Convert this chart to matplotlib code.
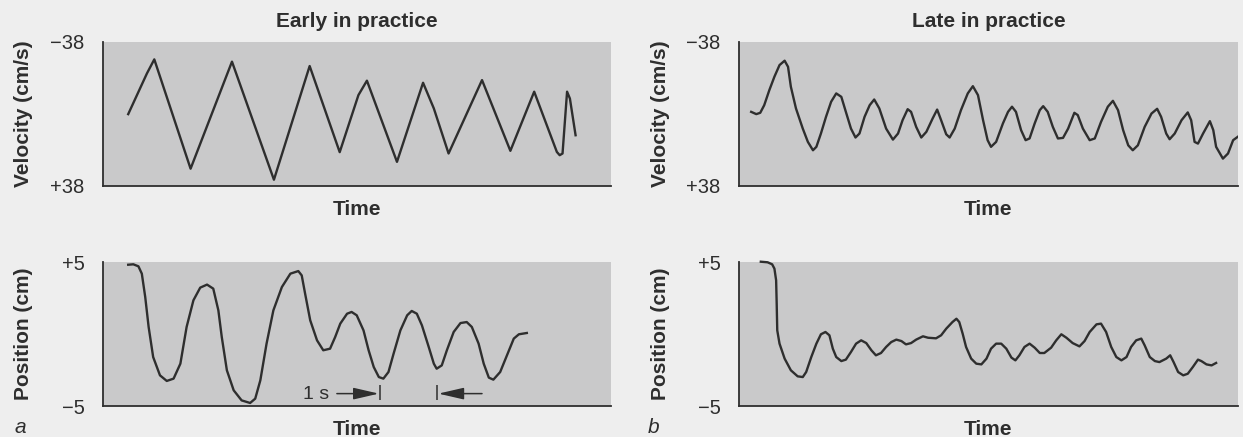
import matplotlib
matplotlib.use("Agg")
import matplotlib.pyplot as plt

plt.rcParams['font.family'] = ['Liberation Sans', 'DejaVu Sans']

# ---------------- data (time in s, values in axis units) ----------------
early_vel_t = [0.45, 0.78, 0.91, 1.55, 2.28, 3.02, 3.65, 4.18, 4.51, 4.66, 5.19,
               5.65, 5.84, 6.10, 6.69, 7.19, 7.61, 8.01, 8.06, 8.11, 8.19, 8.24, 8.34]
early_vel_v = [0.2, -21.2, -28.6, 28.9, -27.4, 34.7, -25.1, 20.2, -9.8, -17.4, 25.3,
               -16.3, -2.8, 20.9, -17.7, 19.5, -11.6, 20.1, 21.8, 20.9, -11.6, -8.0, 11.3]

early_pos_t = [0.45, 0.54, 0.63, 0.69, 0.75, 0.81, 0.89, 1.01, 1.13, 1.25, 1.37, 1.48,
               1.60, 1.72, 1.84, 1.95, 2.04, 2.10, 2.19, 2.31, 2.45, 2.60, 2.69, 2.78,
               2.89, 3.01, 3.16, 3.31, 3.45, 3.51, 3.57, 3.66, 3.78, 3.89, 4.01, 4.10,
               4.19, 4.31, 4.39, 4.48, 4.60, 4.69, 4.78, 4.87, 4.95, 5.04, 5.13, 5.25,
               5.37, 5.45, 5.54, 5.63, 5.75, 5.84, 5.89, 5.98, 6.07, 6.19, 6.31, 6.42,
               6.51, 6.63, 6.72, 6.81, 6.89, 7.01, 7.13, 7.25, 7.34, 7.48]
early_pos_p = [4.81, 4.84, 4.70, 4.19, 2.57, 0.49, -1.60, -2.87, -3.26, -3.10, -2.06, 0.49,
               2.34, 3.22, 3.43, 3.15, 1.64, -0.21, -2.52, -3.91, -4.61, -4.79, -4.49, -3.22,
               -0.67, 1.64, 3.26, 4.19, 4.37, 4.07, 2.80, 0.95, -0.44, -1.13, -1.02, -0.21,
               0.72, 1.41, 1.53, 1.30, 0.25, -1.13, -2.29, -2.99, -3.10, -2.64, -1.37, 0.25,
               1.30, 1.60, 1.41, 0.60, -0.90, -2.06, -2.41, -2.18, -1.13, 0.14, 0.76, 0.83,
               0.49, -0.67, -2.06, -3.03, -3.17, -2.64, -1.48, -0.32, -0.02, 0.07]

late_vel_t = [0.22, 0.31, 0.38, 0.45, 0.54, 0.63, 0.72, 0.81, 0.87, 0.92, 1.01, 1.13,
              1.22, 1.31, 1.37, 1.45, 1.54, 1.63, 1.72, 1.81, 1.89, 1.98, 2.06, 2.13,
              2.22, 2.31, 2.39, 2.48, 2.60, 2.72, 2.81, 2.89, 2.98, 3.04, 3.13, 3.22,
              3.31, 3.42, 3.50, 3.57, 3.66, 3.72, 3.81, 3.92, 4.04, 4.13, 4.22, 4.31,
              4.39, 4.45, 4.54, 4.66, 4.75, 4.82, 4.89, 4.98, 5.06, 5.13, 5.22, 5.31,
              5.37, 5.45, 5.54, 5.63, 5.72, 5.81, 5.92, 5.98, 6.07, 6.19, 6.28, 6.39,
              6.51, 6.60, 6.69, 6.78, 6.87, 6.95, 7.04, 7.16, 7.28, 7.38, 7.45, 7.54,
              7.60, 7.69, 7.81, 7.92, 7.98, 8.04, 8.10, 8.19, 8.31, 8.37, 8.42, 8.54,
              8.63, 8.72, 8.84]
late_vel_v = [-1.0, 0.2, -0.5, -4.5, -12.4, -19.5, -25.6, -27.9, -24.7, -14.2, -2.8, 7.8,
              14.8, 19.2, 17.4, 10.4, 1.6, -6.3, -10.7, -8.9, -1.0, 7.8, 12.5, 10.4,
              1.6, -4.5, -7.5, -2.8, 7.8, 13.6, 10.4, 3.4, -2.4, -1.0, 6.9, 12.5,
              9.5, 2.5, -2.2, 3.4, 10.8, 12.5, 7.8, -1.9, -10.7, -14.5, -9.8, 3.4,
              13.9, 17.4, 14.8, 5.1, -1.0, -3.7, -1.0, 8.6, 13.9, 13.0, 5.1, -1.9,
              -4.0, -1.0, 6.9, 13.0, 12.7, 7.8, -0.5, 0.7, 7.8, 13.9, 13.0, 4.3,
              -3.7, -6.8, -1.9, 8.6, 16.6, 19.2, 16.6, 6.9, -0.1, -2.6, 1.6, 10.4,
              13.4, 10.4, 3.4, -0.7, 3.4, 14.8, 15.7, 10.4, 3.9, 8.6, 17.4, 23.6,
              20.9, 13.9, 11.3]

late_pos_t = [0.39, 0.51, 0.59, 0.63, 0.66, 0.67, 0.68, 0.72, 0.81, 0.92, 1.04, 1.13,
              1.19, 1.28, 1.37, 1.45, 1.53, 1.60, 1.66, 1.72, 1.81, 1.89, 1.98, 2.07,
              2.16, 2.25, 2.34, 2.42, 2.51, 2.60, 2.69, 2.78, 2.87, 2.95, 3.04, 3.13,
              3.25, 3.34, 3.48, 3.57, 3.66, 3.77, 3.84, 3.89, 3.95, 4.01, 4.10, 4.19,
              4.28, 4.37, 4.45, 4.54, 4.63, 4.72, 4.81, 4.88, 4.95, 5.04, 5.13, 5.22,
              5.31, 5.39, 5.51, 5.60, 5.69, 5.78, 5.89, 6.01, 6.10, 6.19, 6.31, 6.39,
              6.48, 6.57, 6.66, 6.75, 6.84, 6.92, 7.01, 7.10, 7.16, 7.25, 7.34, 7.42,
              7.54, 7.61, 7.67, 7.75, 7.84, 7.92, 8.01, 8.10, 8.16, 8.25, 8.34, 8.42]
late_pos_p = [5.02, 4.98, 4.84, 4.54, 3.73, 2.11, 0.25, -0.67, -1.71, -2.52, -2.94, -2.99,
              -2.64, -1.60, -0.67, -0.02, 0.14, -0.09, -1.02, -1.60, -1.88, -1.78, -1.25, -0.67,
              -0.44, -0.63, -1.13, -1.48, -1.32, -0.90, -0.56, -0.39, -0.49, -0.72, -0.63, -0.39,
              -0.16, -0.26, -0.30, -0.09, 0.37, 0.83, 1.06, 0.83, 0.02, -0.90, -1.71, -2.06,
              -2.11, -1.71, -1.02, -0.67, -0.67, -1.02, -1.64, -1.83, -1.48, -0.90, -0.67, -0.95,
              -1.32, -1.32, -0.95, -0.44, -0.02, -0.26, -0.63, -0.86, -0.49, 0.14, 0.67, 0.72,
              0.14, -0.90, -1.60, -1.83, -1.60, -0.90, -0.44, -0.32, -0.79, -1.60, -1.88, -1.95,
              -1.71, -1.48, -1.95, -2.64, -2.87, -2.76, -2.29, -1.78, -1.88, -2.11, -2.18, -2.01]

vel_ticks = [-38, 38]
vel_ticklabels = ['\u221238', '+38']
pos_ticks = [5, -5]
pos_ticklabels = ['+5', '\u22125']

one_sec_marks = [4.89, 5.89]   # trough-to-trough interval marks (s)

titles = ['Early in practice', 'Late in practice']
panel_letters = ['a', 'b']

# ---------------- styling ----------------
W, H = 1243, 437
BG = '#eeeeee'
PANEL = '#c9c9ca'
INK = '#2e2e2e'
fig = plt.figure(figsize=(W / 100, H / 100), dpi=100, facecolor=BG)

def frac_box(x0, y0, x1, y1):
    return [x0 / W, 1 - y1 / H, (x1 - x0) / W, (y1 - y0) / H]

ax_ev = fig.add_axes(frac_box(102.7, 41.5, 611, 186))
ax_ep = fig.add_axes(frac_box(102.7, 262, 611, 406))
ax_lv = fig.add_axes(frac_box(738.7, 41.5, 1238, 186))
ax_lp = fig.add_axes(frac_box(738.7, 262, 1238, 406))

px_per_s = 56.7
xmax_left = (611 - 102.7) / px_per_s
xmax_right = (1238 - 738.7) / px_per_s

def style(ax, xmax, ylim, ticks, labels, ylabel, lx):
    ax.set_facecolor(PANEL)
    ax.set_xlim(0, xmax)
    ax.set_ylim(*ylim)
    for s in ('top', 'right'):
        ax.spines[s].set_visible(False)
    for s in ('left', 'bottom'):
        ax.spines[s].set_color(INK)
        ax.spines[s].set_linewidth(1.3)
    ax.set_xticks([])
    ax.set_yticks(ticks)
    ax.set_yticklabels(labels, fontsize=14.5, color=INK)
    ax.tick_params(axis='y', length=0, pad=13)
    ax.text(lx, 0.5, ylabel, transform=ax.transAxes, rotation=90,
            ha='center', va='center', fontsize=15, fontweight='bold', color=INK)
    ax.text(0.5, -0.165, 'Time', transform=ax.transAxes, ha='center', va='center',
            fontsize=15, fontweight='bold', color=INK)

style(ax_ev, xmax_left, (38, -38), vel_ticks, vel_ticklabels, 'Velocity (cm/s)', -0.155)
style(ax_ep, xmax_left, (-5, 5), pos_ticks, pos_ticklabels, 'Position (cm)', -0.155)
style(ax_lv, xmax_right, (38, -38), vel_ticks, vel_ticklabels, 'Velocity (cm/s)', -0.156)
style(ax_lp, xmax_right, (-5, 5), pos_ticks, pos_ticklabels, 'Position (cm)', -0.156)

lw = 1.7
ax_ev.plot(early_vel_t, early_vel_v, color=INK, lw=lw, solid_joinstyle='round')
ax_ep.plot(early_pos_t, early_pos_p, color=INK, lw=lw, solid_joinstyle='round', clip_on=False)
ax_lv.plot(late_vel_t, late_vel_v, color=INK, lw=lw, solid_joinstyle='round')
ax_lp.plot(late_pos_t, late_pos_p, color=INK, lw=lw, solid_joinstyle='round', clip_on=False)

for ax, title in zip((ax_ev, ax_lv), titles):
    ax.text(0.5, 1.135, title, transform=ax.transAxes, ha='center', va='center',
            fontsize=15, fontweight='bold', color=INK)

# 1 s annotation
ax_ep.vlines(one_sec_marks, -4.61, -3.57, color=INK, lw=1.1)
arrow_style = dict(arrowstyle='-|>,head_length=1.3,head_width=0.3', color=INK,
                   lw=1.1, shrinkA=0, shrinkB=0, mutation_scale=12)
ax_ep.annotate('', xy=(one_sec_marks[0] - 0.02, -4.14), xytext=(4.13, -4.14),
               arrowprops=arrow_style)
ax_ep.annotate('', xy=(one_sec_marks[1] + 0.03, -4.14), xytext=(6.69, -4.14),
               arrowprops=arrow_style)
ax_ep.text(3.76, -4.2, '1 s', ha='center', va='center', fontsize=14, color=INK)

fig.text(15 / W, 1 - 433 / H, panel_letters[0], fontsize=15, style='italic',
         color=INK, ha='left', va='baseline')
fig.text(648 / W, 1 - 433 / H, panel_letters[1], fontsize=15, style='italic',
         color=INK, ha='left', va='baseline')

fig.savefig('out.png', dpi=100, facecolor=BG)
